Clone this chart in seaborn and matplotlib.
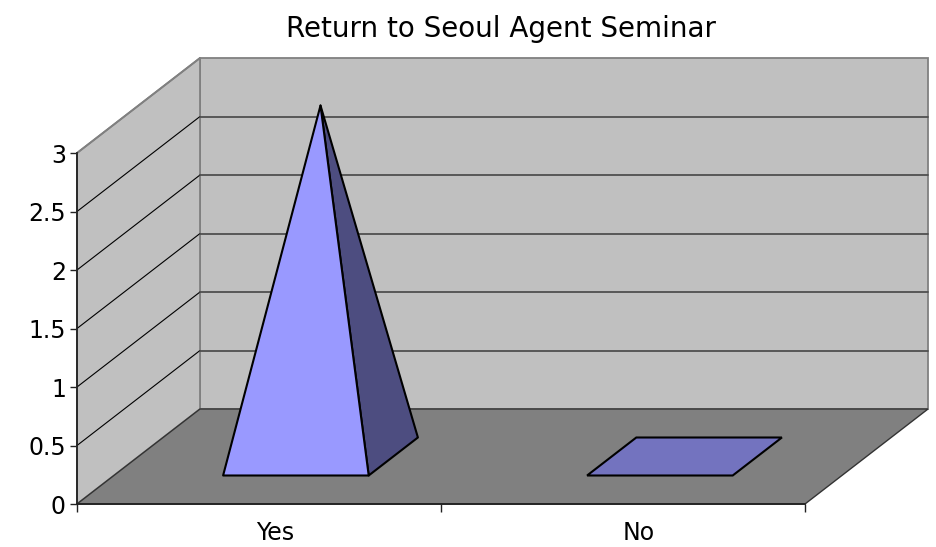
import numpy as np
import matplotlib
matplotlib.use("Agg")
import matplotlib.pyplot as plt
from matplotlib.patches import Polygon
import matplotlib.transforms as mtransforms
import seaborn as sns

# ---- data ----
title = "Return to Seoul Agent Seminar"
categories = ["Yes", "No"]
values = [3, 0]
yticks = [0, 0.5, 1, 1.5, 2, 2.5, 3]
yticklabels = ["0", "0.5", "1", "1.5", "2", "2.5", "3"]

# ---- style ----
sns.set_theme(style="white")
plt.rcParams["font.family"] = ["DejaVu Sans"]

W, H = 937, 547
fig = plt.figure(figsize=(W / 100, H / 100), dpi=100)
# front plane of the 3D box
left_px, right_px, bottom_px, top_px = 77, 805, 504, 153
ax = fig.add_axes([left_px / W, 1 - bottom_px / H,
                   (right_px - left_px) / W, (bottom_px - top_px) / H])
ax.set_xlim(-0.5, len(categories) - 0.5)
ymax = 3
ax.set_ylim(0, ymax)
ax.patch.set_alpha(0)

# depth vector (full depth) in data units
px_per_x = (right_px - left_px) / len(categories)
px_per_y = (bottom_px - top_px) / ymax
DX = 123 / px_per_x
DY = 95 / px_per_y

def P(x, v, d):
    return (x + d * DX, v + d * DY)

x0, x1 = -0.5, len(categories) - 0.5
wall_c = "#C0C0C0"
floor_c = "#808080"
edge_c = "#808080"

# back wall
ax.add_patch(Polygon([P(x0, 0, 1), P(x1, 0, 1), P(x1, ymax, 1), P(x0, ymax, 1)],
                     closed=True, facecolor=wall_c, edgecolor=edge_c, lw=1.3,
                     clip_on=False, zorder=1))
# side wall
ax.add_patch(Polygon([P(x0, 0, 0), P(x0, 0, 1), P(x0, ymax, 1), P(x0, ymax, 0)],
                     closed=True, facecolor=wall_c, edgecolor=edge_c, lw=1.3,
                     clip_on=False, zorder=1))
# floor
ax.add_patch(Polygon([P(x0, 0, 0), P(x1, 0, 0), P(x1, 0, 1), P(x0, 0, 1)],
                     closed=True, facecolor=floor_c, edgecolor="#333333", lw=1.0,
                     clip_on=False, zorder=1.5))

# gridlines
for t in yticks[1:-1]:
    a, b = P(x0, t, 0), P(x0, t, 1)
    ax.plot([a[0], b[0]], [a[1], b[1]], color="black", lw=0.8, clip_on=False, zorder=2)
    a, b = P(x0, t, 1), P(x1, t, 1)
    ax.plot([a[0], b[0]], [a[1], b[1]], color="#505050", lw=1.3, clip_on=False, zorder=2)
a, b = P(x0, ymax, 0), P(x0, ymax, 1)
ax.plot([a[0], b[0]], [a[1], b[1]], color=edge_c, lw=1.3, clip_on=False, zorder=2)

# pyramids
front_c = "#9999FF"
side_c = "#4D4D80"
flat_c = "#7373BF"
hw = 0.2
d0, d1 = 0.3, 0.7
dm = (d0 + d1) / 2
for i, v in enumerate(values):
    FL, FR = P(i - hw, 0, d0), P(i + hw, 0, d0)
    BL, BR = P(i - hw, 0, d1), P(i + hw, 0, d1)
    apex = P(i, v, dm)
    if v > 0:
        ax.add_patch(Polygon([FR, BR, apex], closed=True, facecolor=side_c,
                             edgecolor="black", lw=1.5, joinstyle="round",
                             clip_on=False, zorder=3))
        ax.add_patch(Polygon([FL, FR, apex], closed=True, facecolor=front_c,
                             edgecolor="black", lw=1.5, joinstyle="round",
                             clip_on=False, zorder=3.5))
    else:
        ax.add_patch(Polygon([FL, FR, BR, BL], closed=True, facecolor=flat_c,
                             edgecolor="black", lw=1.5, clip_on=False, zorder=3))

# axes spines
for s in ["top", "right"]:
    ax.spines[s].set_visible(False)
for s in ["left", "bottom"]:
    ax.spines[s].set_visible(True)
    ax.spines[s].set_color("#222222")
    ax.spines[s].set_linewidth(1.3)
    ax.spines[s].set_zorder(4)

ax.set_yticks(yticks)
ax.set_yticklabels(yticklabels, fontsize=17, color="black")
ax.tick_params(axis="y", which="major", left=True, length=5, width=1, color="#222222",
               pad=3, labelcolor="black")
ax.set_xticks(np.arange(len(categories) + 1) - 0.5)
ax.set_xticklabels([])
ax.tick_params(axis="x", which="major", bottom=True, length=6, width=1, color="#222222")
ax.set_xticks(np.arange(len(categories)), minor=True)
ax.set_xticklabels(categories, minor=True, fontsize=17, color="black")
ax.tick_params(axis="x", which="minor", bottom=False, length=0, pad=12, labelcolor="black")
off = mtransforms.ScaledTranslation(16 / 100, 0, fig.dpi_scale_trans)
for lab in ax.get_xticklabels(minor=True):
    lab.set_transform(lab.get_transform() + off)

fig.text(501 / W, 1 - 29 / H, title, ha="center", va="center", fontsize=20, color="black")

fig.savefig("out.png", dpi=100, facecolor="white")
